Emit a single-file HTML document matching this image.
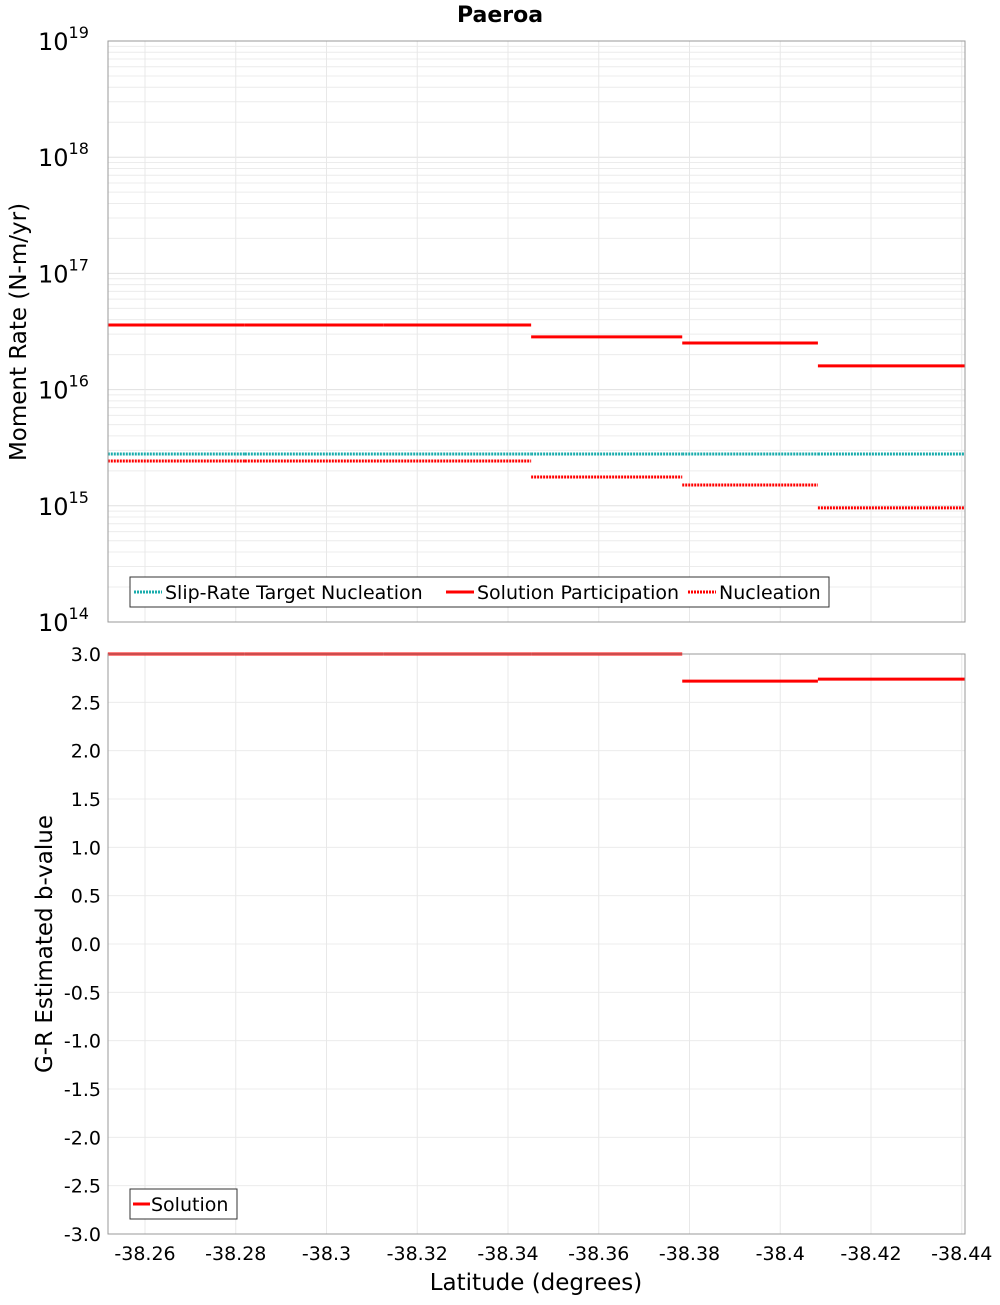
<!DOCTYPE html>
<html><head><meta charset="utf-8"><style>
body{margin:0;background:#fff;font-family:"Liberation Sans","DejaVu Sans",sans-serif}
svg text{font-family:"DejaVu Sans","Liberation Sans",sans-serif}
</style></head><body>
<svg id="c" width="1000" height="1300" xmlns="http://www.w3.org/2000/svg"></svg>
<script>
// Segment latitude bounds
const segStart = [-38.2518, -38.2820, -38.3125, -38.3451, -38.3784, -38.4083];
const segEnd   = [-38.2820, -38.3125, -38.3451, -38.3784, -38.4083, -38.4407];
const participation = [3.6e16, 3.6e16, 3.6e16, 2.84e16, 2.52e16, 1.6e16];
const targetNucleation = [2.79e15, 2.79e15, 2.79e15, 2.79e15, 2.79e15, 2.79e15];
const nucleation = [2.43e15, 2.43e15, 2.43e15, 1.77e15, 1.51e15, 9.6e14];
const bValues = [3.0, 3.0, 3.0, 3.0, 2.72, 2.74];
const xTicks = [-38.26,-38.28,-38.3,-38.32,-38.34,-38.36,-38.38,-38.4,-38.42,-38.44];
const xTickLabels = ["-38.26","-38.28","-38.3","-38.32","-38.34","-38.36","-38.38","-38.4","-38.42","-38.44"];
const logDecades = [14,15,16,17,18,19];
const bTicks = [3.0,2.5,2.0,1.5,1.0,0.5,0.0,-0.5,-1.0,-1.5,-2.0,-2.5,-3.0];
const bTickLabels = ["3.0","2.5","2.0","1.5","1.0","0.5","0.0","-0.5","-1.0","-1.5","-2.0","-2.5","-3.0"];

const NS="http://www.w3.org/2000/svg", svg=document.getElementById('c');
const L=108,R=965,T1=41,B1=622,T2=654,B2=1234;
const x=lat=>145+(-38.26-lat)/0.02*90.75;
const yLog=v=>T1+(19-Math.log10(v))*(B1-T1)/5;
const yB=v=>T2+(3-v)*(B2-T2)/6;
function el(tag,attrs,parent){const e=document.createElementNS(NS,tag);for(const k in attrs)e.setAttribute(k,attrs[k]);(parent||svg).appendChild(e);return e;}
function txt(s,attrs,parent){const e=el('text',attrs,parent);e.textContent=s;return e;}

// title
let t=txt('Paeroa',{x:500,y:22,'text-anchor':'middle','font-size':22,'font-weight':'bold'});


// top panel
const g1=el('g',{});

el('rect',{x:L,y:T1,width:R-L,height:B1-T1,fill:'#fff'},g1);
for(let d=14;d<19;d++)for(let m=1;m<10;m++){const yy=yLog(m*Math.pow(10,d));
  el('line',{x1:L,x2:R,y1:yy,y2:yy,stroke:m===1?'#e0e0e0':'#ececec','stroke-width':1},g1);}
xTicks.forEach(v=>el('line',{x1:x(v),x2:x(v),y1:T1,y2:B1,stroke:'#e8e8e8'},g1));
logDecades.forEach(d=>{const yy=yLog(Math.pow(10,d));
  const tt=txt('10',{x:38,y:yy+9,'font-size':24},g1);
  
  const s=el('tspan',{dy:-12,'font-size':16},tt);s.textContent=String(d);});
function segs(arr,yf,color,dash,name,parent,w){
  arr.forEach((v,i)=>{const ln=el('line',{x1:x(segStart[i]),x2:x(segEnd[i]),y1:yf(v),y2:yf(v),stroke:color,'stroke-width':w||3},parent);
    if(dash)ln.setAttribute('stroke-dasharray',dash);
    });
}
segs(targetNucleation,yLog,'#1aacac','2 1','target-nucleation-segment',g1);
segs(nucleation,yLog,'#ff0000','2 1','nucleation-segment',g1);
segs(participation,yLog,'#ff0000',null,'participation-segment',g1);
el('rect',{x:L,y:T1,width:R-L,height:B1-T1,fill:'none',stroke:'#999'},g1);
const yl=txt('Moment Rate (N-m/yr)',{x:0,y:0,'font-size':23,'text-anchor':'middle',transform:'translate(26,332) rotate(-90)'});


// legend top
const lg=el('g',{});
el('rect',{x:130,y:577,width:699,height:30,fill:'#fff',stroke:'#333'},lg);
[[134,'#1aacac','2 1','Slip-Rate Target Nucleation'],[446,'#ff0000',null,'Solution Participation'],[688,'#ff0000','2 1','Nucleation']].forEach(e=>{
  const ge=el('g',{},lg);
  const ln=el('line',{x1:e[0],x2:e[0]+28,y1:592,y2:592,stroke:e[1],'stroke-width':3},ge);if(e[2])ln.setAttribute('stroke-dasharray',e[2]);
  txt(e[3],{x:e[0]+31,y:599,'font-size':19},ge);});

// bottom panel
const g2=el('g',{});
bTicks.forEach((v,i)=>{el('line',{x1:L,x2:R,y1:yB(v),y2:yB(v),stroke:'#ececec'},g2);
  const tt=txt(bTickLabels[i],{x:101,y:yB(v)+7,'font-size':19,'text-anchor':'end'},g2);
  });
xTicks.forEach((v,i)=>{el('line',{x1:x(v),x2:x(v),y1:T2,y2:B2,stroke:'#e8e8e8'},g2);
  const tt=txt(xTickLabels[i],{x:x(v),y:1260,'font-size':19,'text-anchor':'middle'},g2);
  });
segs(bValues,yB,'#ff0000',null,'b-value-segment',g2);
el('rect',{x:L,y:T2,width:R-L,height:B2-T2,fill:'none',stroke:'#999'},g2);
const yl2=txt('G-R Estimated b-value',{x:0,y:0,'font-size':23,'text-anchor':'middle',transform:'translate(52,944) rotate(-90)'});

const xl=txt('Latitude (degrees)',{x:536,y:1290,'font-size':23,'text-anchor':'middle'});


const lg2=el('g',{});
el('rect',{x:130,y:1189,width:107,height:30,fill:'#fff',stroke:'#333'},lg2);
el('line',{x1:133,x2:150,y1:1204,y2:1204,stroke:'#ff0000','stroke-width':3},lg2);
txt('Solution',{x:151,y:1211,'font-size':19},lg2);
</script>
</body></html>
